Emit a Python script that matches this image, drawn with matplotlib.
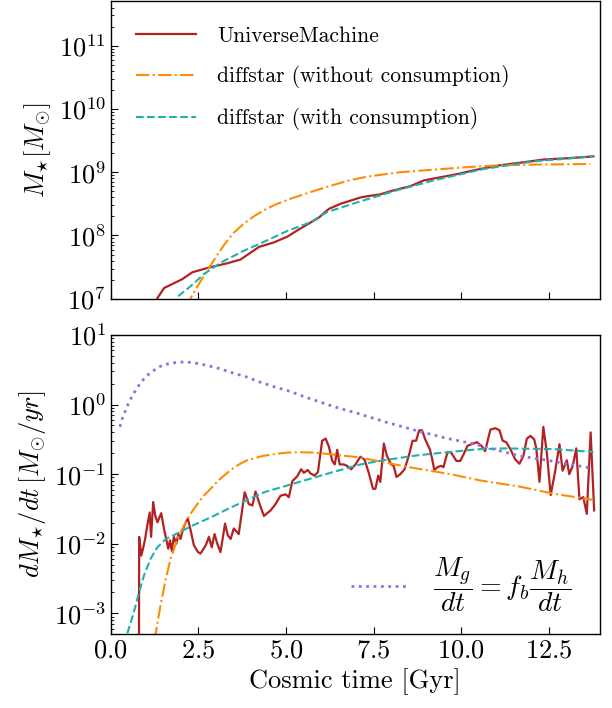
import numpy as np
import matplotlib
matplotlib.use("Agg")
import matplotlib.pyplot as plt

plt.rcParams['font.family'] = 'serif'
plt.rcParams['font.serif'] = ['cmr10']
plt.rcParams['mathtext.fontset'] = 'cm'
plt.rcParams['axes.formatter.use_mathtext'] = True
plt.rcParams['font.size'] = 19

# --- stellar mass history (log10 Msun) ---
t_um_m = [1.25, 1.33, 1.52, 2.04, 2.33, 2.85, 3.32, 3.70, 4.23, 4.65, 5.03, 5.41, 5.93,
          6.22, 6.55, 7.12, 7.31, 7.69, 7.98, 8.55, 8.93, 9.21, 9.88, 10.35, 11.11,
          11.68, 12.34, 13.01, 13.77]
logm_um = [6.85, 7.01, 7.17, 7.31, 7.42, 7.50, 7.56, 7.62, 7.82, 7.89, 7.98, 8.11, 8.28,
           8.42, 8.50, 8.60, 8.62, 8.65, 8.70, 8.78, 8.87, 8.90, 8.97, 9.03, 9.11,
           9.15, 9.20, 9.22, 9.25]

t_ds_m = [1.80, 1.90, 2.28, 2.66, 3.13, 3.80, 4.37, 5.03, 5.70, 6.17, 7.12, 8.20, 9.21,
          10.63, 12.06, 13.77]
logm_ds = [6.88, 7.03, 7.20, 7.39, 7.57, 7.76, 7.90, 8.07, 8.21, 8.37, 8.54, 8.72, 8.87,
           9.05, 9.17, 9.25]

t_nc_m = [2.20, 2.28, 2.52, 2.70, 2.85, 3.00, 3.23, 3.50, 3.80, 4.10, 4.37, 4.70, 5.13,
          5.50, 5.89, 6.36, 6.80, 7.31, 8.26, 9.21, 10.16, 11.11, 12.06, 13.68]
logm_nc = [6.85, 7.01, 7.24, 7.40, 7.53, 7.66, 7.85, 8.04, 8.19, 8.31, 8.40, 8.49, 8.58,
           8.65, 8.72, 8.80, 8.87, 8.93, 9.00, 9.04, 9.08, 9.11, 9.12, 9.13]

# --- star formation rates (log10 Msun/yr) ---
t_um_sfr = [0.80, 0.81, 0.87, 0.92, 0.98, 1.04, 1.11, 1.15, 1.21, 1.27, 1.33, 1.44, 1.52,
            1.58, 1.64, 1.69, 1.74, 1.80, 1.87, 1.93, 1.99, 2.06, 2.14, 2.20, 2.28, 2.37,
            2.49, 2.56, 2.71, 2.80, 2.88, 2.96, 3.04, 3.13, 3.26, 3.34, 3.42, 3.51, 3.65,
            3.82, 3.94, 4.04, 4.13, 4.26, 4.37, 4.56, 4.70, 4.84, 4.99, 5.08, 5.18, 5.32,
            5.43, 5.51, 5.62, 5.70, 5.81, 5.91, 6.03, 6.13, 6.22, 6.32, 6.39, 6.46, 6.53,
            6.65, 6.74, 6.86, 6.98, 7.12, 7.24, 7.36, 7.48, 7.55, 7.63, 7.69, 7.79, 7.88,
            8.00, 8.07, 8.15, 8.26, 8.38, 8.50, 8.61, 8.71, 8.80, 8.88, 8.97, 9.10, 9.16,
            9.23, 9.32, 9.42, 9.49, 9.61, 9.71, 9.86, 9.97, 10.09, 10.18, 10.30, 10.44,
            10.59, 10.68, 10.83, 10.97, 11.09, 11.18, 11.28, 11.40, 11.54, 11.66, 11.77,
            11.87, 11.97, 12.08, 12.14, 12.23, 12.34, 12.44, 12.55, 12.68, 12.80, 12.89,
            13.01, 13.08, 13.18, 13.28, 13.37, 13.48, 13.58, 13.69, 13.79]
logsfr_um = [-5.0, -1.90, -2.17, -2.07, -1.93, -1.74, -1.55, -1.90, -1.40, -1.60, -1.69,
             -1.56, -1.79, -1.93, -2.07, -1.95, -2.10, -1.90, -2.00, -1.86, -1.93, -1.79,
             -1.69, -1.64, -1.81, -2.02, -2.12, -2.14, -2.02, -1.90, -2.05, -1.86, -2.00,
             -2.12, -1.71, -1.88, -1.93, -1.78, -1.86, -1.26, -1.43, -1.45, -1.25, -1.45,
             -1.60, -1.52, -1.43, -1.31, -1.29, -1.33, -1.10, -1.03, -0.93, -0.98, -0.94,
             -0.99, -1.02, -0.97, -0.52, -0.49, -0.60, -0.81, -0.86, -0.65, -0.86, -0.86,
             -0.88, -0.93, -0.86, -0.75, -0.79, -0.98, -1.21, -1.21, -1.02, -1.11, -0.56,
             -0.74, -0.86, -0.88, -1.04, -1.00, -0.93, -0.74, -0.52, -0.52, -0.37, -0.37,
             -0.50, -0.64, -0.76, -0.94, -0.90, -0.88, -0.90, -0.68, -0.69, -0.81, -0.81,
             -0.69, -0.59, -0.57, -0.54, -0.60, -0.67, -0.36, -0.34, -0.37, -0.52, -0.54,
             -0.64, -0.79, -0.85, -0.74, -0.49, -0.45, -0.50, -0.63, -1.11, -0.32, -0.69,
             -1.30, -0.95, -0.57, -0.95, -0.80, -1.00, -0.88, -0.63, -1.36, -1.33, -1.57,
             -0.40, -1.52]

t_ds_sfr = [0.40, 0.47, 0.66, 0.81, 0.95, 1.14, 1.33, 1.57, 1.90, 2.28, 2.85, 3.42, 4.37,
            5.32, 6.27, 7.12, 7.79, 8.74, 9.69, 10.54, 11.21, 12.63, 13.77]
logsfr_ds = [-3.6, -3.29, -2.98, -2.69, -2.45, -2.21, -2.05, -1.93, -1.85, -1.75, -1.62,
             -1.48, -1.26, -1.12, -0.98, -0.86, -0.80, -0.73, -0.68, -0.64, -0.63, -0.64,
             -0.68]

t_nc_sfr = [1.20, 1.28, 1.42, 1.57, 1.71, 1.90, 2.14, 2.30, 2.47, 2.65, 2.85, 3.05, 3.23,
            3.42, 3.66, 3.89, 4.10, 4.37, 4.70, 5.03, 5.40, 5.79, 6.20, 6.55, 7.12, 7.79,
            8.74, 9.69, 10.54, 11.68, 12.63, 13.77]
logsfr_nc = [-3.7, -3.29, -2.88, -2.50, -2.21, -1.93, -1.69, -1.55, -1.43, -1.31, -1.21,
             -1.10, -1.02, -0.94, -0.86, -0.80, -0.77, -0.735, -0.71, -0.69, -0.685, -0.69,
             -0.71, -0.73, -0.76, -0.83, -0.92, -1.00, -1.09, -1.18, -1.28, -1.37]

t_gas = [0.26, 0.33, 0.41, 0.49, 0.59, 0.69, 0.82, 0.95, 1.11, 1.29, 1.49, 1.71, 1.93,
         2.15, 2.36, 2.58, 3.01, 3.44, 3.85, 4.27, 4.69, 5.11, 5.53, 5.95, 6.36, 6.78,
         7.00, 7.83, 8.69, 9.54, 10.40, 10.83, 11.68, 12.44, 13.11, 13.68]
logsfr_gas = [-0.32, -0.20, -0.10, 0.00, 0.10, 0.19, 0.29, 0.37, 0.45, 0.51, 0.57, 0.59,
              0.61, 0.61, 0.60, 0.58, 0.53, 0.46, 0.40, 0.32, 0.25, 0.19, 0.11, 0.04,
              -0.03, -0.09, -0.12, -0.25, -0.37, -0.48, -0.57, -0.63, -0.74, -0.80, -0.86,
              -0.91]

c_um = '#b22222'
c_nc = '#ff8c00'
c_ds = '#20b2aa'
c_gas = '#9370db'

fig = plt.figure(figsize=(6.12, 7.08), dpi=100)
ax1 = fig.add_axes([0.181, 0.578, 0.799, 0.42])
ax2 = fig.add_axes([0.181, 0.105, 0.799, 0.422])

ax1.plot(t_um_m, 10**np.array(logm_um), color=c_um, lw=1.6, label='UniverseMachine')
ax1.plot(t_nc_m, 10**np.array(logm_nc), color=c_nc, lw=1.5, ls='-.',
         label='diffstar (without consumption)')
ax1.plot(t_ds_m, 10**np.array(logm_ds), color=c_ds, lw=1.5, ls='--',
         label='diffstar (with consumption)')
ax1.set_yscale('log')
ax1.set_ylim(1e7, 5e11)
ax1.set_xlim(0, 13.95)
ax1.set_ylabel(r'$M_{\star}[M_{\odot}]$')
ax1.tick_params(labelbottom=False)
ax1.legend(loc='upper left', frameon=False, handlelength=2.8, handletextpad=1.0,
           labelspacing=0.9, borderaxespad=0.75, fontsize=15.5)

ax2.plot(t_um_sfr, 10**np.array(logsfr_um), color=c_um, lw=1.6)
ax2.plot(t_nc_sfr, 10**np.array(logsfr_nc), color=c_nc, lw=1.5, ls='-.')
ax2.plot(t_ds_sfr, 10**np.array(logsfr_ds), color=c_ds, lw=1.5, ls='--')
ax2.plot(t_gas, 10**np.array(logsfr_gas), color=c_gas, lw=2, ls=':',
         label=r'$\dfrac{M_g}{dt} = f_b\dfrac{M_h}{dt}$')
ax2.set_yscale('log')
ax2.set_ylim(10**-3.29, 10)
ax2.set_xlim(0, 13.95)
ax2.set_xlabel('Cosmic time [Gyr]')
ax2.set_ylabel(r'$dM_{\star}/dt\,[M_{\odot}/yr]$')
ax2.legend(loc='lower right', frameon=False, handlelength=2.05, handletextpad=0.9,
           fontsize=20, borderaxespad=0.3, bbox_to_anchor=(0.982, 0.0))

for ax in (ax1, ax2):
    ax.set_xticks([0, 2.5, 5, 7.5, 10, 12.5])
    ax.tick_params(which='major', direction='in', length=5, right=False, top=False)
    ax.tick_params(which='minor', direction='in', length=2.5, right=False, top=False)
    ax.tick_params(axis='x', which='minor', bottom=False)
    for s in ax.spines.values():
        s.set_linewidth(1.0)

fig.savefig('out.png', dpi=100)
